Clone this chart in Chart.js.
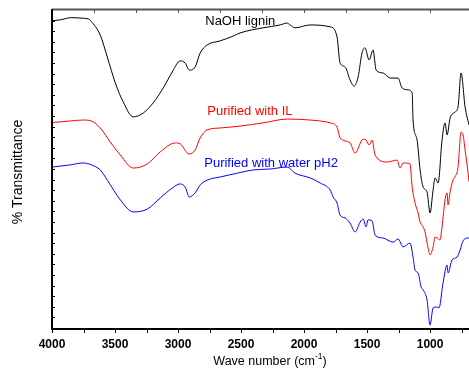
<!DOCTYPE html>
<html>
<head>
<meta charset="utf-8">
<script src="https://cdn.jsdelivr.net/npm/chart.js@4/dist/chart.umd.min.js"></script>
<style>
  body { margin: 0; background: #fff; }
  #wrap { width: 469px; height: 375px; }
</style>
</head>
<body>
<div id="wrap"><canvas id="ftir" width="469" height="375"></canvas></div>
<script>
// FTIR spectra, wave number (cm-1) vs % transmittance
var naohWn = [4000, 3934, 3847, 3752, 3712, 3680, 3617, 3561, 3498, 3435, 3355, 3276, 3197, 3117, 3046, 2983, 2943, 2911, 2864, 2824, 2769, 2665, 2562, 2507, 2325, 2190, 2134, 2111, 2071, 1952, 1793, 1738, 1714, 1674, 1635, 1603, 1571, 1540, 1516, 1484, 1452, 1428, 1373, 1317, 1254, 1222, 1174, 1142, 1135, 1103, 1079, 1055, 1024, 1000, 976, 960, 936, 905, 881, 865, 841, 802, 778, 754, 722, 691];
var naohT = [96.6, 96.9, 97.6, 97.4, 97.2, 96.0, 92.1, 85.2, 77.1, 71.1, 66.4, 67.6, 70.8, 75.5, 80.5, 84.0, 83.3, 81.1, 82.1, 86.5, 89.0, 90.3, 91.8, 92.8, 94.4, 95.3, 95.9, 95.3, 94.4, 95.3, 94.7, 91.5, 83.3, 82.1, 78.0, 76.1, 78.9, 86.5, 88.1, 84.3, 87.4, 81.1, 80.2, 78.6, 78.6, 75.5, 74.9, 73.9, 65.4, 59.1, 49.7, 44.3, 42.8, 36.2, 43.4, 47.2, 45.6, 59.1, 64.5, 60.7, 66.0, 67.9, 69.5, 80.2, 69.5, 63.8];

var ilWn = [4000, 3855, 3752, 3688, 3617, 3538, 3458, 3355, 3244, 3141, 3022, 2983, 2911, 2864, 2824, 2769, 2665, 2507, 2325, 2134, 1952, 1793, 1738, 1714, 1635, 1595, 1540, 1516, 1484, 1460, 1436, 1341, 1262, 1238, 1214, 1159, 1142, 1119, 1095, 1079, 1055, 1040, 1016, 1000, 976, 960, 944, 921, 905, 881, 865, 857, 841, 818, 802, 778, 754, 738, 722, 698, 691];
var ilT = [64.6, 65.1, 65.4, 65.1, 62.9, 58.5, 54.4, 50.3, 51.6, 55.4, 58.2, 57.9, 54.7, 56.0, 59.8, 62.3, 62.9, 63.5, 64.5, 65.7, 65.4, 64.5, 63.2, 59.8, 58.2, 55.0, 59.1, 59.4, 57.6, 59.1, 54.4, 52.2, 52.8, 50.3, 51.9, 51.6, 44.3, 39.3, 36.2, 33.3, 31.8, 30.2, 25.2, 23.0, 25.5, 28.6, 28.3, 27.7, 31.8, 40.3, 42.5, 38.7, 42.8, 46.5, 47.5, 50.6, 61.6, 60.7, 56.0, 48.7, 46.0];

var waterWn = [4000, 3855, 3752, 3688, 3617, 3561, 3458, 3355, 3244, 3141, 3046, 2983, 2943, 2911, 2864, 2824, 2769, 2665, 2562, 2403, 2269, 2134, 2071, 1952, 1872, 1793, 1769, 1738, 1714, 1674, 1635, 1595, 1555, 1531, 1508, 1492, 1460, 1436, 1373, 1294, 1254, 1214, 1159, 1135, 1119, 1095, 1071, 1055, 1024, 1000, 976, 944, 929, 897, 865, 857, 826, 786, 762, 738, 698, 691];
var waterT = [50.6, 51.3, 51.9, 51.3, 49.7, 46.5, 40.3, 36.5, 37.4, 40.9, 44.0, 45.3, 44.3, 41.2, 42.5, 45.0, 46.5, 47.5, 48.4, 49.7, 50.0, 50.6, 48.7, 47.2, 45.6, 43.4, 41.2, 39.3, 35.5, 34.6, 33.0, 30.2, 33.3, 34.3, 31.8, 34.0, 33.7, 29.2, 28.3, 27.0, 28.0, 25.5, 26.7, 22.3, 18.2, 17.3, 12.9, 12.0, 8.8, 0.9, 6.3, 6.6, 6.3, 14.2, 19.8, 17.3, 21.4, 22.3, 24.5, 27.4, 28.3, 28.3];

var seriesNames = ['NaOH lignin', 'Purified with IL', 'Purified with water pH2'];
var seriesColors = ['#000000', '#ff0000', '#0000ff'];
// where each series name sits (wave number of its left end, % T of its middle)
var labelWn = [2784, 2768, 2792];
var labelT = [96.5, 68.1, 51.9];

// bottom axis: tick every 250 cm-1, label every 500
var xTickVals = [4000, 3750, 3500, 3250, 3000, 2750, 2500, 2250, 2000, 1750, 1500, 1250, 1000, 750];
var xMajor = [4000, 3500, 3000, 2500, 2000, 1500, 1000];

function pts(wn, t) {
  return wn.map(function (w, i) { return { x: w, y: t[i] }; });
}

// axis frame, inward/outward tick marks, curve names and axis titles
var frameTicks = {
  id: 'frameTicks',
  afterDatasetsDraw: function (chart) {
    var ctx = chart.ctx, a = chart.chartArea;
    var xs = chart.scales.x, ys = chart.scales.y;
    var i, v, p;
    ctx.save();

    // top frame line with small ticks pointing down
    ctx.strokeStyle = '#555';
    ctx.lineWidth = 2;
    ctx.beginPath();
    ctx.moveTo(a.left, a.top - 0.5);
    ctx.lineTo(a.right, a.top - 0.5);
    ctx.stroke();
    ctx.lineWidth = 1;
    ctx.beginPath();
    for (i = 1; ; i++) {
      v = 4000 - i * 1000 / 3;
      if (v < xs.min) break;
      p = Math.round(xs.getPixelForValue(v)) + 0.5;
      ctx.moveTo(p, a.top);
      ctx.lineTo(p, a.top + 3);
    }
    ctx.stroke();

    ctx.strokeStyle = '#000';
    // left axis ticks pointing right
    ctx.beginPath();
    for (i = 1; i < 30; i++) {
      p = Math.round(ys.getPixelForValue(i * 100 / 30)) + 0.5;
      ctx.moveTo(a.left, p);
      ctx.lineTo(a.left + 3, p);
    }
    ctx.stroke();

    // bottom axis ticks pointing down
    ctx.beginPath();
    xs.ticks.forEach(function (t) {
      p = Math.round(xs.getPixelForValue(t.value)) + 0.5;
      ctx.moveTo(p, a.bottom);
      ctx.lineTo(p, a.bottom + 5);
    });
    ctx.stroke();

    // left and bottom axis lines
    ctx.lineWidth = 2;
    ctx.beginPath();
    ctx.moveTo(a.left, a.top - 1);
    ctx.lineTo(a.left, a.bottom + 1);
    ctx.lineTo(a.right, a.bottom + 1);
    ctx.stroke();

    // curve names
    ctx.font = '13px "Liberation Sans", Arial, sans-serif';
    ctx.textAlign = 'left';
    ctx.textBaseline = 'middle';
    for (i = 0; i < seriesNames.length; i++) {
      ctx.fillStyle = seriesColors[i];
      ctx.fillText(seriesNames[i], xs.getPixelForValue(labelWn[i]), ys.getPixelForValue(labelT[i]));
    }

    // x title with superscript
    ctx.fillStyle = '#000';
    ctx.textBaseline = 'alphabetic';
    var f1 = '12.5px "Liberation Sans", Arial, sans-serif';
    var f2 = '8.5px "Liberation Sans", Arial, sans-serif';
    var s1 = 'Wave number (cm', s2 = '-1', s3 = ')';
    ctx.font = f1;
    var w1 = ctx.measureText(s1).width, w3 = ctx.measureText(s3).width;
    ctx.font = f2;
    var w2 = ctx.measureText(s2).width;
    var x0 = 270 - (w1 + w2 + w3) / 2, base = 365;
    ctx.font = f1;
    ctx.fillText(s1, x0, base);
    ctx.font = f2;
    ctx.fillText(s2, x0 + w1, base - 6);
    ctx.font = f1;
    ctx.fillText(s3, x0 + w1 + w2, base);

    // y title
    ctx.translate(18.5, 172);
    ctx.rotate(-Math.PI / 2);
    ctx.font = '14px "Liberation Sans", Arial, sans-serif';
    ctx.textAlign = 'center';
    ctx.textBaseline = 'middle';
    ctx.fillText('% Transmittance', 0, 0);
    ctx.restore();
  }
};

var series = [pts(naohWn, naohT), pts(ilWn, ilT), pts(waterWn, waterT)];

new Chart(document.getElementById('ftir').getContext('2d'), {
  type: 'line',
  data: {
    datasets: series.map(function (d, i) {
      return {
        label: seriesNames[i],
        data: d,
        borderColor: seriesColors[i],
        borderWidth: 1,
        pointRadius: 0,
        fill: false,
        cubicInterpolationMode: 'monotone'
      };
    })
  },
  options: {
    responsive: false,
    animation: false,
    events: [],
    layout: { padding: { top: 10, right: 0, left: 0, bottom: 0 } },
    plugins: {
      legend: { display: false },
      tooltip: { enabled: false }
    },
    scales: {
      x: {
        type: 'linear',
        reverse: true,
        min: 691,
        max: 4000,
        grid: { display: false, drawTicks: false },
        border: { display: false },
        afterBuildTicks: function (scale) {
          scale.ticks = xTickVals.map(function (v) { return { value: v }; });
        },
        afterFit: function (scale) {
          scale.height = 47;
          scale.paddingLeft = 0;
          scale.paddingRight = 0;
        },
        ticks: {
          autoSkip: false,
          maxRotation: 0,
          padding: 9,
          color: '#000',
          font: { family: '"Liberation Sans", Arial, sans-serif', size: 12, weight: 'bold' },
          callback: function (v) { return xMajor.indexOf(v) >= 0 ? String(v) : ''; }
        }
      },
      y: {
        min: 0,
        max: 100,
        grid: { display: false, drawTicks: false },
        border: { display: false },
        ticks: { display: false },
        afterFit: function (scale) { scale.width = 52; }
      }
    }
  },
  plugins: [frameTicks]
});
</script>
</body>
</html>
